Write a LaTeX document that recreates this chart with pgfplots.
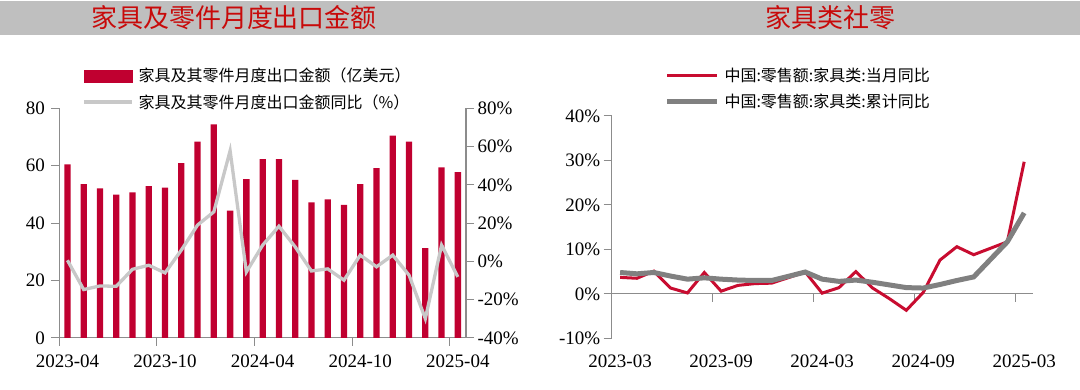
\documentclass[border=0pt]{standalone}
\usepackage{pgfplots}
\usepackage{pgfplotstable}
\pgfplotsset{compat=1.18}
\usepackage{fontspec}
\setmainfont{Liberation Serif}
\newfontfamily\cjk{Noto Sans CJK SC}
\definecolor{barred}{RGB}{192,0,48}
\definecolor{linered}{RGB}{200,12,48}
\definecolor{lgray}{RGB}{200,200,200}
\definecolor{dgray}{RGB}{128,128,128}
\definecolor{axgray}{RGB}{140,140,140}
\definecolor{band}{RGB}{191,191,191}
\definecolor{titlered}{RGB}{200,10,10}

\pgfplotstableread{
i val yoy
0 60.5 0.6
1 53.6 -14.7
2 52.1 -12.8
3 49.9 -13.0
4 50.7 -4.1
5 52.9 -2.0
6 52.4 -6.0
7 60.9 5.9
8 68.4 19.0
9 74.4 25.9
10 44.4 57.8
11 55.3 -5.5
12 62.3 8.5
13 62.3 18.4
14 55.1 7.6
15 47.2 -5.0
16 48.3 -3.9
17 46.4 -9.8
18 53.6 3.3
19 59.2 -2.8
20 70.5 3.3
21 68.4 -7.2
22 31.3 -29.9
23 59.4 8.5
24 57.8 -8.1
}\exporttable

\pgfplotstableread{
i mon cum
0 3.7 4.8
1 3.5 4.5
2 5.1 4.8
3 1.3 4.0
4 0.2 3.3
5 4.8 3.6
6 0.6 3.3
7 1.9 3.1
8 2.3 3.0
9 2.4 3.0
11 4.9 4.9
12 0.15 3.3
13 1.4 2.8
14 5.0 3.1
15 1.3 2.6
16 -1.1 2.0
17 -3.7 1.4
18 0.3 1.3
19 7.6 2.1
20 10.6 3.0
21 8.8 3.8
23 11.7 11.7
24 29.7 18.2
}\retailtable

\pgfplotsset{
  common/.style={
    scale only axis,
    xmin=-0.5, xmax=24.5,
    tick align=outside,
    major tick length=8pt,
    axis line style={axgray, line width=1pt},
    every tick/.style={axgray, line width=1pt},
    tick label style={font=\fontsize{19}{19}\selectfont},
    /pgf/number format/assume math mode=true,
    clip=false,
  },
}

\begin{document}
\begin{tikzpicture}
\useasboundingbox (0pt,0pt) rectangle (1080pt,390pt);
\fill[band] (0pt,355pt) rectangle (1080pt,389pt);
\node[text=titlered, font=\cjk\fontsize{26}{26}\selectfont] at (234pt,372pt) {家具及零件月度出口金额};
\node[text=titlered, font=\cjk\fontsize{26}{26}\selectfont] at (830pt,372pt) {家具类社零};

% Left chart: bars
\begin{axis}[common,
  at={(59.3pt,52pt)}, anchor=south west,
  width=406.7pt, height=229.7pt,
  ymin=0, ymax=80,
  axis x line*=bottom, axis y line*=left,
  xtick={-0.5,5.5,11.5,17.5,23.5},
  xticklabels={2023-04,2023-10,2024-04,2024-10,2025-04},
  xticklabel style={xshift=8.13pt, yshift=-5pt},
  yticklabel style={xshift=-3pt},
  ytick={0,20,40,60,80},
  ybar, bar width=6.3pt,
]
\addplot[fill=barred, draw=none] table[x=i,y=val]{\exporttable};
\end{axis}

% Left chart: yoy line
\begin{axis}[common,
  at={(59.3pt,52pt)}, anchor=south west,
  width=406.7pt, height=229.7pt,
  ymin=-40, ymax=80,
  axis y line*=right, axis x line=none,
  ytick={-40,-20,0,20,40,60,80},
  yticklabel={\pgfmathprintnumber{\tick}\%},
  legend style={at={(axis description cs:0.056,1.18)}, anchor=north west,
    draw=none, fill=none, inner sep=0pt, row sep=9pt,
    font=\cjk\fontsize{16}{16}\selectfont,
    nodes={inner sep=1pt}},
  legend cell align=left,
]
\addlegendimage{legend image code/.code={\fill[barred] (0pt,-6pt) rectangle (48pt,6pt);\path (52pt,0pt);}}
\addlegendentry{家具及其零件月度出口金额（亿美元）}
\addplot[lgray, line width=3.3pt,
  legend image code/.code={\draw[lgray, line width=3.3pt] (0pt,0pt) -- (48pt,0pt);\path (52pt,0pt);}]
  table[x=i,y=yoy]{\exporttable};
\addlegendentry{家具及其零件月度出口金额同比（\%）}
\end{axis}

% Right chart
\begin{axis}[common,
  at={(611.7pt,51.7pt)}, anchor=south west,
  width=420.9pt, height=222.3pt,
  ymin=-10, ymax=40,
  axis y line*=left, axis x line*=bottom,
  x axis line style={draw=none},
  xtick={-0.5,5.5,11.5,17.5,23.5},
  xticklabels={2023-03,2023-09,2024-03,2024-09,2025-03},
  xticklabel style={xshift=8.42pt, yshift=-5pt},
  x tick style={draw=none},
  ytick={-10,0,10,20,30,40},
  yticklabel={\pgfmathprintnumber{\tick}\%},
  legend style={at={(axis description cs:0.125,1.2205)}, anchor=north west,
    draw=none, fill=none, inner sep=0pt, row sep=9pt,
    font=\cjk\fontsize{16}{16}\selectfont,
    nodes={inner sep=1pt}},
  legend cell align=left,
]
\draw[axgray, line width=1pt] (axis cs:-0.5,0) -- (axis cs:24.5,0);
\draw[axgray, line width=1pt] (axis cs:5.5,0) -- ([yshift=-8pt]axis cs:5.5,0);
\draw[axgray, line width=1pt] (axis cs:11.5,0) -- ([yshift=-8pt]axis cs:11.5,0);
\draw[axgray, line width=1pt] (axis cs:17.5,0) -- ([yshift=-8pt]axis cs:17.5,0);
\draw[axgray, line width=1pt] (axis cs:23.5,0) -- ([yshift=-8pt]axis cs:23.5,0);
\addplot[linered, line width=3pt,
  legend image code/.code={\draw[linered, line width=3pt] (0pt,0pt) -- (50pt,0pt);\path (54pt,0pt);}]
  table[x=i,y=mon]{\retailtable};
\addlegendentry{中国:零售额:家具类:当月同比}
\addplot[dgray, line width=5pt,
  legend image code/.code={\draw[dgray, line width=5pt] (0pt,0pt) -- (50pt,0pt);\path (54pt,0pt);}]
  table[x=i,y=cum]{\retailtable};
\addlegendentry{中国:零售额:家具类:累计同比}
\end{axis}
\end{tikzpicture}
\end{document}
